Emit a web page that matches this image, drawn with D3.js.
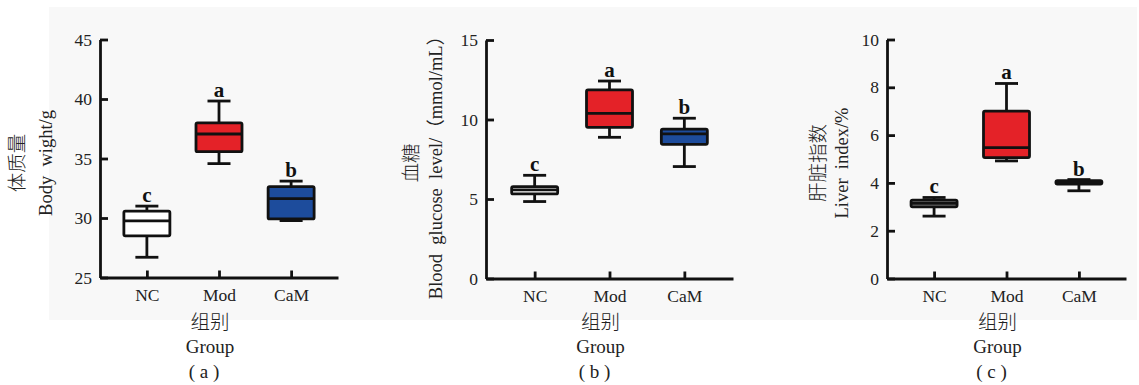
<!DOCTYPE html>
<html>
<head>
<meta charset="utf-8">
<script src="https://cdn.jsdelivr.net/npm/d3@7"></script>
<style>
  body { margin: 0; background: #fff; }
  svg text { font-family: "Liberation Serif", "Noto Sans CJK SC", serif; fill: #222; }
</style>
</head>
<body>
<div id="chart"></div>
<script>
var groups = ["NC", "Mod", "CaM"];
var letters = ["c", "a", "b"];
// [whisker low, q1, median, q3, whisker high]
var bodyWeight = [[26.7, 28.5, 29.76, 30.57, 31.0], [34.57, 35.57, 37.06, 38.0, 39.83], [29.78, 29.92, 31.63, 32.64, 33.1]];
var glucose = [[4.84, 5.32, 5.57, 5.78, 6.49], [8.88, 9.51, 10.39, 11.86, 12.42], [7.04, 8.44, 9.09, 9.39, 10.08]];
var liverIndex = [[2.61, 3.0, 3.14, 3.28, 3.39], [4.92, 5.06, 5.48, 7.0, 8.16], [3.67, 3.95, 4.02, 4.09, 4.14]];
var ticksA = [25, 30, 35, 40, 45];
var ticksB = [0, 5, 10, 15];
var ticksC = [0, 2, 4, 6, 8, 10];
var titlesCn = ["体质量", "血糖", "肝脏指数"];
var titlesEn = ["Body  wight/g", "Blood  glucose  level/（mmol/mL）", "Liver  index/%"];
var panelTags = ["( a )", "( b )", "( c )"];

var W = 1139, H = 385;
var svg = d3.select("#chart").append("svg").attr("width", W).attr("height", H);

svg.append("rect").attr("x", 49).attr("y", 7).attr("width", 1088).attr("height", 313)
  .style("fill", "#f8f8f8");

var panels = [
  {data: bodyWeight, ticks: ticksA, x0: 100, x1: 338, top: 39.5, bot: 277.5, fills: ["#ffffff", "#e42228", "#1d4c9c"], cn: -83, en: -54},
  {data: glucose, ticks: ticksB, x0: 486, x1: 733, top: 40, bot: 278.5, fills: ["#ffffff", "#e42228", "#1d4c9c"], cn: -75, en: -50},
  {data: liverIndex, ticks: ticksC, x0: 887, x1: 1126, top: 39.5, bot: 278.5, fills: ["#8a8a8a", "#e42228", "#1d4c9c"], cn: -69, en: -45}
];

panels.forEach(function(p, k) {
  var g = svg.append("g");
  var y = d3.scaleLinear().domain(d3.extent(p.ticks)).range([p.bot, p.top]);
  var x = d3.scalePoint().domain(groups).range([p.x0, p.x1]).padding(0.65);

  var ya = g.append("g").attr("transform", "translate(" + p.x0 + ",0)")
    .call(d3.axisLeft(y).tickValues(p.ticks).tickSizeInner(-8).tickSizeOuter(0).tickPadding(8));
  var xa = g.append("g").attr("transform", "translate(0," + p.bot + ")")
    .call(d3.axisBottom(x).tickSizeInner(-7).tickSizeOuter(0).tickPadding(11));
  [ya, xa].forEach(function(a) {
    a.select(".domain").style("stroke", "#111").style("stroke-width", 2.8);
    a.selectAll(".tick line").style("stroke", "#111").style("stroke-width", 2.8);
    a.selectAll(".tick text").style("font-size", "17.5px").style("fill", "#222")
      .style("font-family", '"Liberation Serif", serif');
  });

  var bw = 46, cw = 23;
  var boxes = g.selectAll(".box").data(p.data).enter().append("g").attr("class", "box");
  boxes.append("line")
    .attr("x1", function(d, i) { return x(groups[i]); })
    .attr("x2", function(d, i) { return x(groups[i]); })
    .attr("y1", function(d) { return y(d[0]); })
    .attr("y2", function(d) { return y(d[4]); });
  [0, 4].forEach(function(j) {
    boxes.append("line")
      .attr("x1", function(d, i) { return x(groups[i]) - cw / 2; })
      .attr("x2", function(d, i) { return x(groups[i]) + cw / 2; })
      .attr("y1", function(d) { return y(d[j]); })
      .attr("y2", function(d) { return y(d[j]); });
  });
  boxes.append("rect")
    .attr("x", function(d, i) { return x(groups[i]) - bw / 2; })
    .attr("y", function(d) { return y(d[3]); })
    .attr("width", bw)
    .attr("height", function(d) { return y(d[1]) - y(d[3]); })
    .attr("rx", 1.5)
    .style("fill", function(d, i) { return p.fills[i]; });
  boxes.append("line")
    .attr("x1", function(d, i) { return x(groups[i]) - bw / 2; })
    .attr("x2", function(d, i) { return x(groups[i]) + bw / 2; })
    .attr("y1", function(d) { return y(d[2]); })
    .attr("y2", function(d) { return y(d[2]); });
  boxes.selectAll("line, rect").style("stroke", "#111").style("stroke-width", 2.8);

  boxes.append("text")
    .attr("x", function(d, i) { return x(groups[i]); })
    .attr("y", function(d) { return y(d[4]) - 4; })
    .attr("text-anchor", "middle")
    .style("font-size", "21px").style("font-weight", "bold").style("fill", "#111")
    .text(function(d, i) { return letters[i]; });

  var cy = 163;
  g.append("text")
    .attr("transform", "translate(" + (p.x0 + p.cn) + "," + cy + ") rotate(-90)")
    .attr("text-anchor", "middle").attr("dy", "0.35em")
    .style("font-size", "19.5px").style("font-family", '"Noto Sans CJK SC", sans-serif').style("font-weight", 300)
    .text(titlesCn[k]);
  g.append("text")
    .attr("transform", "translate(" + (p.x0 + p.en) + "," + cy + ") rotate(-90)")
    .attr("text-anchor", "middle").attr("dy", "0.35em")
    .attr("xml:space", "preserve")
    .style("font-size", "18.5px").style("white-space", "pre")
    .text(titlesEn[k]);

  var gx = (p.x0 + p.x1) / 2 - 9;
  g.append("text").attr("x", gx).attr("y", 329).attr("text-anchor", "middle")
    .style("font-size", "19.5px").style("font-family", '"Noto Sans CJK SC", sans-serif').style("font-weight", 300)
    .text("组别");
  g.append("text").attr("x", gx).attr("y", 353).attr("text-anchor", "middle")
    .style("font-size", "19px").text("Group");
  g.append("text").attr("x", gx - 6).attr("y", 378).attr("text-anchor", "middle")
    .attr("xml:space", "preserve").style("white-space", "pre")
    .style("font-size", "19px").text(panelTags[k]);
});
</script>
</body>
</html>
